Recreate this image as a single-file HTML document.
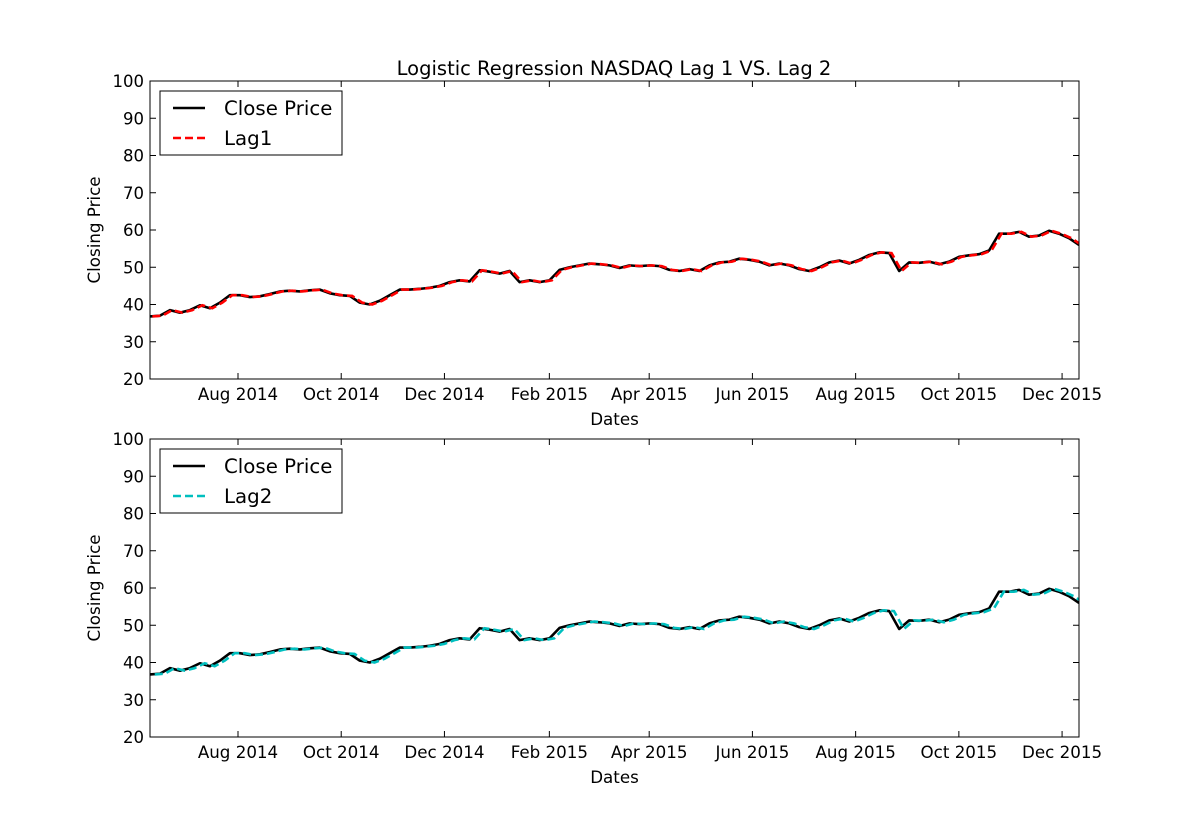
<!DOCTYPE html>
<html><head><meta charset="utf-8">
<style>
body{margin:0;background:#fff;}
svg{display:block;font-family:"DejaVu Sans","Liberation Sans",sans-serif;}
</style></head>
<body>
<svg id="chart" width="1198" height="819" viewBox="0 0 1198 819" xmlns="http://www.w3.org/2000/svg">
<rect width="1198" height="819" fill="#fff"/>
<text x="614" y="75" font-size="19.5" text-anchor="middle">Logistic Regression NASDAQ Lag 1 VS. Lag 2</text>
</svg>
<script>
const closes = [36.8,37,38.5,37.8,38.5,39.8,39,40.5,42.5,42.5,42,42.2,42.8,43.5,43.7,43.5,43.8,44,43,42.5,42.3,40.5,40,41,42.5,44,44,44.2,44.5,45,46,46.5,46.2,49.2,48.8,48.3,49,46,46.5,46,46.5,49.3,50,50.5,51,50.8,50.5,49.8,50.5,50.3,50.5,50.3,49.3,49,49.5,49,50.5,51.3,51.5,52.3,52,51.5,50.5,51,50.5,49.5,49,50,51.3,51.8,51,52,53.3,54,53.8,49,51.3,51.2,51.5,50.8,51.5,52.8,53.2,53.5,54.5,59,59,59.5,58.2,58.5,59.8,59,57.8,56];
const lag1 = closes.slice();
const lag2 = closes.slice();
const lag1Days = 1.4;   // one trading day lag in calendar days
const lag2Days = 2.8;   // two trading days lag
const yTicks = [20,30,40,50,60,70,80,90,100];
const xTickLabels = ["Aug 2014","Oct 2014","Dec 2014","Feb 2015","Apr 2015","Jun 2015","Aug 2015","Oct 2015","Dec 2015"];
const xTickDays = [52,113,174,236,295,356,417,478,539];
const totalDays = 549;

const NS="http://www.w3.org/2000/svg";
const svg=document.getElementById('chart');
function mk(tag,attrs,parent){const e=document.createElementNS(NS,tag);for(const k in attrs)e.setAttribute(k,attrs[k]);(parent||svg).appendChild(e);return e;}

function panel(top, lagData, lagDays, lagName, lagColor, idx){
  const L=150,R=1079,T=top,B=top+298;
  const g=mk('g',{});
  
  
  const dayOf=i=>i*totalDays/(closes.length-1);
  const xd=d=>L+d*(R-L)/totalDays;
  const ys=v=>B-(v-20)*(B-T)/80;
  const cl=mk('clipPath',{id:'clip'+idx},g);
  mk('rect',{x:L,y:T,width:R-L,height:B-T},cl);
  const cp=mk('polyline',{points:closes.map((v,i)=>xd(dayOf(i))+','+ys(v)).join(' '),fill:'none',stroke:'#000','stroke-width':2.6,'stroke-linejoin':'round','clip-path':'url(#clip'+idx+')'},g);
  
  
  const lp=mk('polyline',{points:lagData.map((v,i)=>xd(dayOf(i)+lagDays)+','+ys(v)).join(' '),fill:'none',stroke:lagColor,'stroke-width':2.6,'stroke-dasharray':'8,4','clip-path':'url(#clip'+idx+')'},g);
  
  
  const fr=mk('rect',{x:L,y:T,width:R-L,height:B-T,fill:'none',stroke:'#000','stroke-width':1},g);
  
  
  yTicks.forEach(v=>{
    const y=ys(v);
    mk('line',{x1:L,x2:L+6,y1:y,y2:y,stroke:'#000'},g);
    mk('line',{x1:R,x2:R-6,y1:y,y2:y,stroke:'#000'},g);
    const t=mk('text',{x:L-6,y:y+6,'font-size':16.5,'text-anchor':'end'},g);
    t.textContent=v;
    
    
  });
  xTickDays.forEach((d,i)=>{
    const x=xd(d);
    mk('line',{x1:x,x2:x,y1:B,y2:B-6,stroke:'#000'},g);
    mk('line',{x1:x,x2:x,y1:T,y2:T+6,stroke:'#000'},g);
    const t=mk('text',{x:x,y:B+21,'font-size':16.7,'text-anchor':'middle'},g);
    t.textContent=xTickLabels[i];
    
    
  });
  const xt=mk('text',{x:(L+R)/2,y:B+46,'font-size':16.7,'text-anchor':'middle'},g);
  xt.textContent='Dates';
  
  
  const yt=mk('text',{x:0,y:0,'font-size':16.7,'text-anchor':'middle',transform:`translate(100,${(T+B)/2}) rotate(-90)`},g);
  yt.textContent='Closing Price';
  
  
  const lg=mk('g',{},g);
  
  
  mk('rect',{x:160,y:T+10,width:182,height:64,fill:'#fff',stroke:'#000','stroke-width':1},lg);
  mk('line',{x1:173,x2:205,y1:T+27,y2:T+27,stroke:'#000','stroke-width':2.6},lg);
  mk('line',{x1:173,x2:205,y1:T+57,y2:T+57,stroke:lagColor,'stroke-width':2.6,'stroke-dasharray':'8,4'},lg);
  const t1=mk('text',{x:224,y:T+34,'font-size':19.8},lg);
  t1.textContent='Close Price';
  
  
  const t2=mk('text',{x:224,y:T+64,'font-size':19.8},lg);
  t2.textContent=lagName;
  
  
}
panel(81,lag1,lag1Days,'Lag1','#ff0000',1);
panel(439,lag2,lag2Days,'Lag2','#00bfbf',2);
</script>
</body></html>
